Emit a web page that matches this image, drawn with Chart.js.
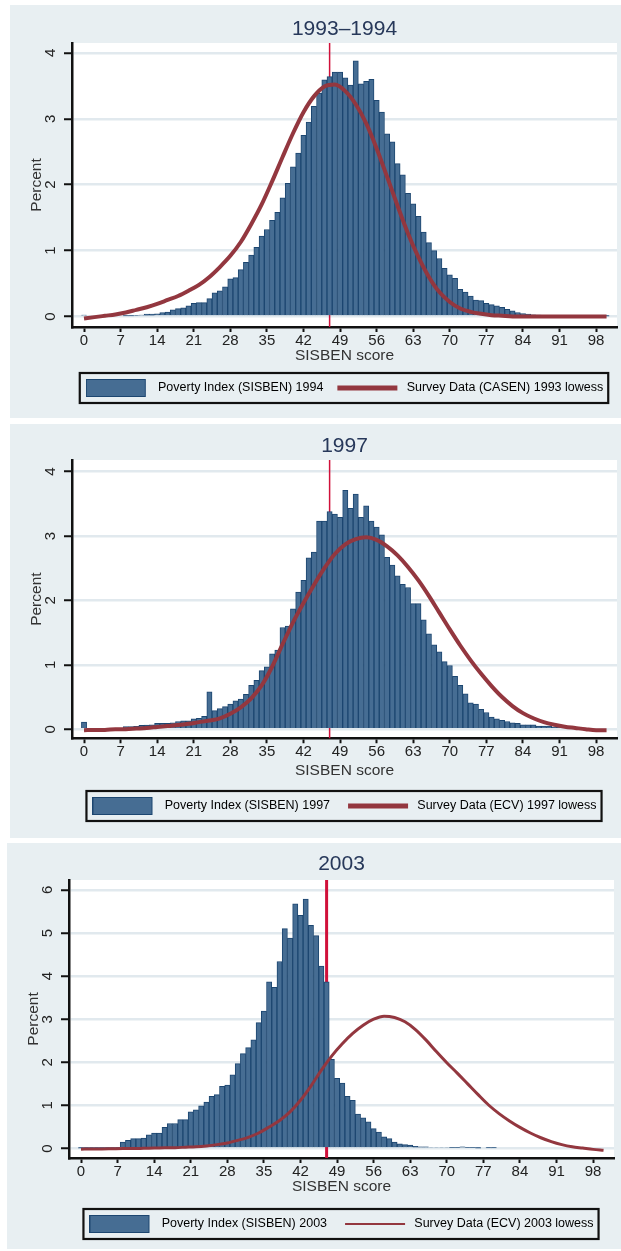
<!DOCTYPE html>
<html>
<head>
<meta charset="utf-8">
<script src="https://cdn.jsdelivr.net/npm/chart.js@4.4.1/dist/chart.umd.min.js"></script>
<style>
  body { margin: 0; background: #fff; width: 621px; height: 1251px; position: relative; overflow: hidden; }
  .panel { position: absolute; background: #e8eff2; }
  .panel canvas { display: block; }
</style>
</head>
<body>
<div class="panel" style="left:10px;top:5px;width:611px;height:413px"><canvas id="c1994" width="611" height="413"></canvas></div>
<div class="panel" style="left:10px;top:424px;width:611px;height:414px"><canvas id="c1997" width="611" height="414"></canvas></div>
<div class="panel" style="left:7px;top:843px;width:614px;height:406px"><canvas id="c2003" width="614" height="406"></canvas></div>
<script>
"use strict";

// histogram bins: one point wide, centred on the score
var scores = [];
for (var s = 0; s <= 100; s++) scores.push(s);
// lowess curves read every 2 points
var lowessScores = [];
for (var t = 0; t <= 100; t += 2) lowessScores.push(t);

var xTicks = [0, 7, 14, 21, 28, 35, 42, 49, 56, 63, 70, 77, 84, 91, 98];
var yTicks4 = [0, 1, 2, 3, 4];
var yTicks6 = [0, 1, 2, 3, 4, 5, 6];
var cutoff = 47;

var sisben1994 = [
  0.02, 0, 0, 0, 0, 0, 0, 0, 0.01, 0.01,
  0.015, 0.02, 0.035, 0.035, 0.04, 0.06, 0.065, 0.10, 0.12, 0.13,
  0.16, 0.20, 0.21, 0.21, 0.27, 0.36, 0.39, 0.45, 0.57, 0.59,
  0.71, 0.82, 0.93, 1.05, 1.22, 1.32, 1.46, 1.58, 1.80, 2.02,
  2.27, 2.48, 2.75, 2.95, 3.19, 3.39, 3.59, 3.64, 3.71, 3.71,
  3.62, 3.51, 3.88, 3.53, 3.57, 3.60, 3.28, 3.10, 2.77, 2.65,
  2.32, 2.15, 1.87, 1.71, 1.52, 1.28, 1.12, 1.00, 0.88, 0.73,
  0.63, 0.58, 0.41, 0.37, 0.31, 0.25, 0.24, 0.20, 0.18, 0.16,
  0.14, 0.11, 0.085, 0.06, 0.045, 0.035, 0.025, 0.02, 0.015, 0.01,
  0.01, 0.01, 0.01, 0.01, 0.005, 0.005, 0.005, 0.005, 0.005, 0.005,
  0.005
];
var casen1993 = [
  -0.03, -0.01, 0.01, 0.03, 0.06, 0.10, 0.14, 0.19, 0.25, 0.31,
  0.39, 0.48, 0.60, 0.75, 0.92, 1.13, 1.40, 1.70, 2.05, 2.42,
  2.78, 3.10, 3.34, 3.49, 3.52, 3.42, 3.22, 2.93, 2.55, 2.12,
  1.68, 1.26, 0.90, 0.60, 0.37, 0.22, 0.12, 0.07, 0.04, 0.02,
  0.01, 0, 0, 0, 0, 0, 0, 0, 0, 0,
  0
];

var sisben1997 = [
  0.11, 0, 0, 0, 0, 0, 0, 0.01, 0.04, 0.04,
  0.045, 0.06, 0.065, 0.07, 0.09, 0.09, 0.09, 0.10, 0.12, 0.13,
  0.13, 0.16, 0.17, 0.20, 0.58, 0.29, 0.32, 0.35, 0.39, 0.44,
  0.47, 0.54, 0.68, 0.76, 0.91, 0.97, 1.17, 1.23, 1.58, 1.60,
  1.87, 2.13, 2.31, 2.66, 2.75, 3.23, 3.23, 3.38, 3.34, 3.29,
  3.71, 3.43, 3.65, 3.29, 3.47, 3.23, 3.14, 3.02, 2.67, 2.55,
  2.38, 2.25, 2.20, 1.95, 1.95, 1.70, 1.48, 1.31, 1.20, 1.05,
  0.99, 0.82, 0.68, 0.55, 0.41, 0.39, 0.31, 0.26, 0.19, 0.16,
  0.14, 0.12, 0.10, 0.09, 0.07, 0.07, 0.07, 0.05, 0.05, 0.05,
  0.03, 0.03, 0.03, null, null, null, null, null, null, null,
  null
];
var ecv1997 = [
  -0.015, -0.01, -0.01, 0, 0, 0.01, 0.02, 0.035, 0.05, 0.065,
  0.085, 0.11, 0.135, 0.17, 0.24, 0.34, 0.48, 0.68, 0.97, 1.32,
  1.66, 1.96, 2.24, 2.50, 2.72, 2.87, 2.95, 2.98, 2.94, 2.84,
  2.70, 2.52, 2.31, 2.07, 1.81, 1.55, 1.30, 1.07, 0.86, 0.67,
  0.50, 0.36, 0.25, 0.17, 0.11, 0.07, 0.04, 0.02, 0, -0.015,
  -0.015
];

var sisben2003 = [
  0.01, 0.01, 0.01, 0.01, 0.01, 0.01, 0.01, 0.01, 0.15, 0.19,
  0.23, 0.23, 0.24, 0.32, 0.36, 0.36, 0.49, 0.58, 0.58, 0.67,
  0.67, 0.85, 0.90, 0.99, 1.08, 1.21, 1.25, 1.44, 1.47, 1.71,
  1.97, 2.20, 2.34, 2.52, 2.92, 3.19, 3.87, 3.74, 4.34, 5.10,
  4.88, 5.68, 5.41, 5.79, 5.18, 4.94, 4.23, 3.87, 2.07, 1.63,
  1.52, 1.21, 1.12, 0.80, 0.71, 0.62, 0.46, 0.38, 0.27, 0.23,
  0.15, 0.11, 0.09, 0.08, 0.05, 0.04, 0.04, 0.03, 0.03, 0.03,
  0.03, 0.02, 0.02, 0.04, 0.02, 0.02, 0.01, null, 0.015, 0.015,
  null, null, null, null, null, null, null, null, null, null,
  null, null, null, null, null, null, null, null, null, null,
  null
];
var ecv2003 = [
  -0.015, -0.01, -0.01, -0.005, 0, 0, 0.005, 0.01, 0.015, 0.02,
  0.03, 0.04, 0.06, 0.09, 0.13, 0.19, 0.26, 0.36, 0.50, 0.65,
  0.85, 1.12, 1.45, 1.82, 2.15, 2.43, 2.67, 2.86, 3.00, 3.07,
  3.04, 2.94, 2.76, 2.52, 2.25, 1.99, 1.75, 1.50, 1.25, 1.01,
  0.81, 0.64, 0.49, 0.36, 0.25, 0.16, 0.09, 0.04, 0.01, -0.02,
  -0.04
];

var barFill = '#466d93';
var barEdge = '#1c4670';
var lowessColor = '#93373f';
var cutoffColor = '#d0103a';
var gridColor = '#e1e9ee';
var fontFamily = "'Liberation Sans', Arial, sans-serif";

Chart.defaults.font.family = fontFamily;
Chart.defaults.animation = false;

function swatch(draw) {
  var c = document.createElement('canvas');
  c.width = 66;
  c.height = 18;
  draw(c.getContext('2d'));
  return c;
}

var barSwatch = swatch(function (ctx) {
  ctx.fillStyle = barFill;
  ctx.fillRect(0, 0, 60, 18);
  ctx.strokeStyle = barEdge;
  ctx.lineWidth = 1;
  ctx.strokeRect(0.5, 0.5, 59, 17);
});

function lineSwatch(width) {
  return swatch(function (ctx) {
    ctx.strokeStyle = lowessColor;
    ctx.lineWidth = width;
    ctx.beginPath();
    ctx.moveTo(3, 9);
    ctx.lineTo(63, 9);
    ctx.stroke();
  });
}

// white plot region, cutoff line behind the bars, box round the legend
var stataLook = {
  id: 'stataLook',
  beforeDraw: function (chart) {
    var a = chart.chartArea, ctx = chart.ctx;
    ctx.save();
    ctx.fillStyle = '#fff';
    ctx.fillRect(a.left, a.top, a.right - a.left, a.bottom - a.top);
    ctx.restore();
  },
  beforeDatasetsDraw: function (chart, args, opts) {
    var a = chart.chartArea, ctx = chart.ctx;
    var x = chart.scales.x.getPixelForValue(opts.cutoff);
    ctx.save();
    ctx.strokeStyle = cutoffColor;
    ctx.lineWidth = opts.width;
    ctx.beginPath();
    ctx.moveTo(x, a.top);
    ctx.lineTo(x, a.bottom);
    ctx.stroke();
    ctx.restore();
  },
  afterDraw: function (chart) {
    var hb = chart.legend.legendHitBoxes, ctx = chart.ctx;
    if (!hb || !hb.length) return;
    var last = hb[hb.length - 1];
    var left = hb[0].left - 6, right = last.left + last.width + 5;
    var cy = hb[0].top + 6.25;
    ctx.save();
    ctx.strokeStyle = '#111';
    ctx.lineWidth = 2.2;
    ctx.strokeRect(left, cy - 15, right - left, 30);
    ctx.restore();
  }
};

function histogramChart(id, p) {
  var lineIcon = lineSwatch(p.legendLine);
  return new Chart(document.getElementById(id), {
    type: 'bar',
    data: {
      datasets: [{
        type: 'bar',
        label: p.barLabel,
        data: scores.map(function (s, i) { return {x: s, y: p.bars[i]}; }),
        backgroundColor: barFill,
        borderColor: barEdge,
        borderWidth: 1,
        barPercentage: 1,
        categoryPercentage: 1,
        order: 2
      }, {
        type: 'line',
        label: p.lineLabel,
        data: lowessScores.map(function (s, i) { return {x: s, y: p.lowess[i]}; }),
        borderColor: lowessColor,
        borderWidth: p.lineWidth,
        pointRadius: 0,
        tension: 0.4,
        cubicInterpolationMode: 'monotone',
        order: 1
      }]
    },
    options: {
      responsive: false,
      layout: { padding: { left: 0, right: p.padRight, top: 0, bottom: p.padBottom } },
      scales: {
        x: {
          type: 'linear', min: -2.3, max: 102, offset: false,
          afterBuildTicks: function (axis) { axis.ticks = xTicks.map(function (v) { return {value: v}; }); },
          afterFit: function (axis) { axis.height = p.xAxisHeight; },
          grid: { offset: false, drawOnChartArea: false, tickLength: 5, tickColor: '#111', tickWidth: 2 },
          border: { color: '#111', width: 2.5 },
          ticks: { padding: 1, color: '#222', maxRotation: 0, autoSkip: false, font: { size: 15, lineHeight: 1 } },
          title: { display: true, text: 'SISBEN score', color: '#333', font: { size: 15.5 }, padding: { top: 0, bottom: p.xTitlePad } }
        },
        y: {
          min: p.yMin, max: p.yMax,
          afterBuildTicks: function (axis) { axis.ticks = p.yTicks.map(function (v) { return {value: v}; }); },
          afterFit: function (axis) { axis.width = 62; },
          grid: { color: gridColor, lineWidth: 2.5, tickLength: 8, tickColor: '#111', tickWidth: 2 },
          border: { color: '#111', width: 2.5 },
          ticks: { minRotation: 90, maxRotation: 90, crossAlign: 'center', padding: 9, color: '#222', font: { size: 15, lineHeight: 1 } },
          title: { display: true, text: 'Percent', color: '#333', font: { size: 15.5 }, padding: { top: 17, bottom: 0 } }
        }
      },
      plugins: {
        tooltip: { enabled: false },
        title: {
          display: true, text: p.title, fullSize: false, color: '#27385a',
          font: { size: 21, weight: 'normal' },
          padding: { top: p.titleTop, bottom: p.titleBottom }
        },
        legend: {
          position: 'bottom', fullSize: false,
          labels: {
            usePointStyle: true, pointStyleWidth: 66, padding: p.legendPad,
            color: '#111', font: { size: 12.5 },
            generateLabels: function (chart) {
              return chart.data.datasets.map(function (ds, i) {
                return {
                  text: ds.label, datasetIndex: i, hidden: false, lineWidth: 0,
                  fillStyle: 'transparent', strokeStyle: 'transparent',
                  pointStyle: ds.type === 'bar' ? barSwatch : lineIcon
                };
              });
            }
          }
        },
        stataLook: { cutoff: cutoff, width: p.cutoffWidth }
      }
    },
    plugins: [stataLook]
  });
}

histogramChart('c1994', {
  title: '1993\u20131994',
  barLabel: 'Poverty Index (SISBEN) 1994',
  lineLabel: 'Survey Data (CASEN) 1993 lowess',
  bars: sisben1994, lowess: casen1993,
  yTicks: yTicks4, yMin: -0.16, yMax: 4.15,
  lineWidth: 4, legendLine: 5, cutoffWidth: 1.5, legendPad: 11,
  padRight: 4, padBottom: 13.75, xAxisHeight: 43.75, xTitlePad: 5.5,
  titleTop: 11.4, titleBottom: 1.4
});

histogramChart('c1997', {
  title: '1997',
  barLabel: 'Poverty Index (SISBEN) 1997',
  lineLabel: 'Survey Data (ECV) 1997 lowess',
  bars: sisben1997, lowess: ecv1997,
  yTicks: yTicks4, yMin: -0.14, yMax: 4.18,
  lineWidth: 4, legendLine: 5, cutoffWidth: 1.5, legendPad: 15,
  padRight: 4, padBottom: 15.75, xAxisHeight: 46.5, xTitlePad: 4.5,
  titleTop: 10.1, titleBottom: 0.7
});

histogramChart('c2003', {
  title: '2003',
  barLabel: 'Poverty Index (SISBEN) 2003',
  lineLabel: 'Survey Data (ECV) 2003 lowess',
  bars: sisben2003, lowess: ecv2003,
  yTicks: yTicks6, yMin: -0.22, yMax: 6.23,
  lineWidth: 3, legendLine: 2, cutoffWidth: 3, legendPad: 15,
  padRight: 7, padBottom: 8.75, xAxisHeight: 44.75, xTitlePad: 6.5,
  titleTop: 8.4, titleBottom: 3.4
});
</script>
</body>
</html>
